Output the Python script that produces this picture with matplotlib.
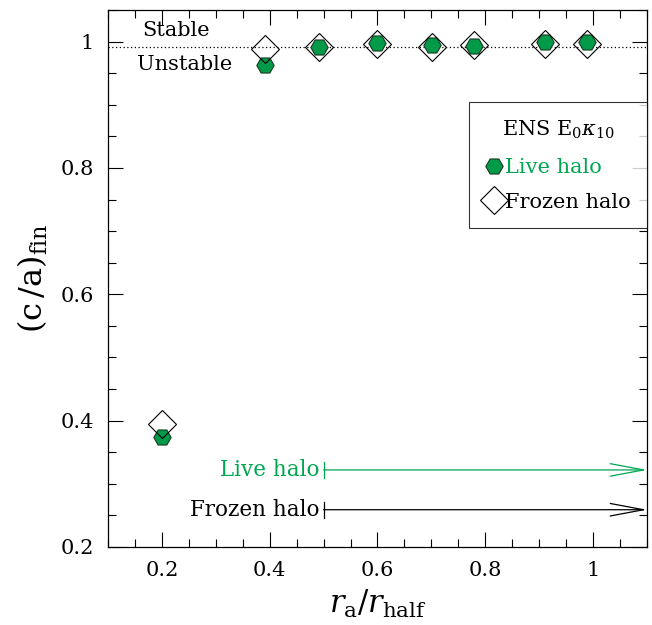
import numpy as np
import matplotlib.pyplot as plt
from matplotlib.ticker import MultipleLocator

# === DATA ===
ra_rhalf = [0.2, 0.391, 0.492, 0.599, 0.702, 0.779, 0.910, 0.988]
ca_live = [0.374, 0.963, 0.991, 0.998, 0.994, 0.993, 0.999, 0.999]
ca_frozen = [0.395, 0.988, 0.992, 0.996, 0.992, 0.995, 0.996, 0.996]

stable_limit = 0.991
arrow_start = 0.5
arrow_live_y = 0.322
arrow_frozen_y = 0.259

green = "#00a651"
green_fill = "#009a49"

plt.rcParams["font.family"] = "DejaVu Serif"
plt.rcParams["mathtext.fontset"] = "dejavuserif"

fig = plt.figure(figsize=(6.52, 6.25), dpi=100)
ax = fig.add_axes([0.1656, 0.1248, 0.8267, 0.8592])

ax.axhline(stable_limit, color="black", ls=(0, (1, 2)), lw=0.9, zorder=1)

ax.plot(ra_rhalf, ca_live, ls="none", marker="H", ms=12.5, mfc=green_fill,
        mec="#1a3a22", mew=0.8, label="Live halo", zorder=3)
ax.plot(ra_rhalf, ca_frozen, ls="none", marker="D", ms=14, mfc="none",
        mec="black", mew=0.8, label="Frozen halo", zorder=4)

ax.text(0.163, 1.003, "Stable", fontsize=15, ha="left", va="bottom")
ax.text(0.153, 0.979, "Unstable", fontsize=15, ha="left", va="top")

# arrows for the live / frozen ranges
for yv, col, lab in [(arrow_live_y, green, "Live halo"),
                     (arrow_frozen_y, "black", "Frozen halo")]:
    ax.annotate("", xy=(1.1, yv), xytext=(arrow_start, yv),
                arrowprops=dict(arrowstyle="->,head_length=2.4,head_width=0.45",
                                color=col, lw=0.9, shrinkA=0, shrinkB=0),
                annotation_clip=False)
    ax.plot([arrow_start, arrow_start], [yv - 0.013, yv + 0.013],
            color=col, lw=0.9)
    ax.text(arrow_start - 0.008, yv, lab, color=col, fontsize=15.5,
            ha="right", va="center")

ax.set_xlim(0.1, 1.1)
ax.set_ylim(0.2, 1.05)
ax.xaxis.set_minor_locator(MultipleLocator(0.05))
ax.yaxis.set_minor_locator(MultipleLocator(0.05))
ax.set_xticks([0.2, 0.4, 0.6, 0.8, 1.0])
ax.set_xticklabels(["0.2", "0.4", "0.6", "0.8", "1"])
ax.set_yticks([0.2, 0.4, 0.6, 0.8, 1.0])
ax.set_yticklabels(["0.2", "0.4", "0.6", "0.8", "1"])
ax.tick_params(which="both", direction="in", top=True, right=True,
               labelsize=15, width=0.8)
ax.tick_params(which="major", length=11, pad=10)
ax.tick_params(which="minor", length=6)
for s in ax.spines.values():
    s.set_linewidth(0.9)

ax.set_xlabel(r"$r_{\rm a}/r_{\rm half}$", fontsize=22, labelpad=6)
ax.set_ylabel(r"$({\rm c}\,/{\rm a})_{\rm fin}$", fontsize=23, labelpad=8)

leg = ax.legend(loc="upper right", bbox_to_anchor=(1.0, 0.828),
                title=r"ENS E$_0\kappa_{10}$", fontsize=15, title_fontsize=15,
                frameon=True, fancybox=False, handletextpad=0.1,
                handlelength=0.8, borderpad=0.8, borderaxespad=0,
                labelspacing=0.75)
leg.get_frame().set_edgecolor("black")
leg.get_frame().set_linewidth(0.8)
leg.get_texts()[0].set_color(green)
leg._legend_box.sep = 12

fig.savefig("out.png", dpi=100)
